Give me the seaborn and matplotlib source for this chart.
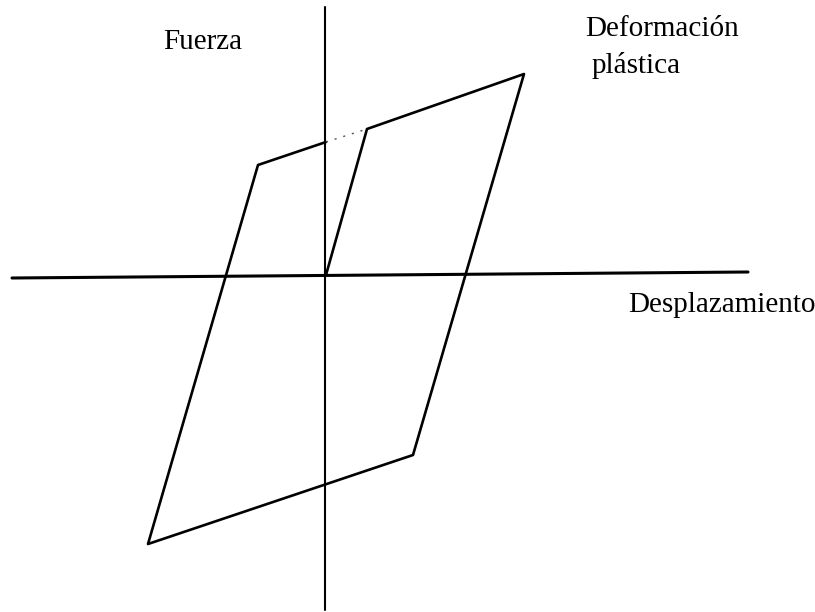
import matplotlib
matplotlib.use("Agg")
import matplotlib.pyplot as plt
import seaborn as sns
import pandas as pd

# --- Data (displacement, force), arbitrary units ---
# hysteresis loop: origin -> yield -> max -> unload -> min -> reload
LOOP_X = [0.00, 0.41, 1.98, 0.87, -1.78, -0.68, 0.00]
LOOP_Y = [0.00, 1.46, 2.01, -1.80, -2.69, 1.10, 1.33]
# faint dotted link between reload branch and yield point
GAP_X = [0.00, 0.41]
GAP_Y = [1.33, 1.46]

# axis lines
HAXIS_X = [-3.14, 4.22]
HAXIS_Y = [-0.03, 0.03]
VAXIS_X = [-0.01, -0.01]
VAXIS_Y = [2.68, -3.35]

LABEL_FORCE = "Fuerza"
LABEL_DISP = "Desplazamiento"
LABEL_PLASTIC = ["Deformación", "plástica"]

INK = "#000000"


def main():
    sns.set_theme(style="white")
    plt.rcParams["font.family"] = ["Liberation Serif", "DejaVu Serif"]

    fig = plt.figure(figsize=(8.15, 6.12), dpi=100)
    ax = fig.add_axes([0, 0, 1, 1])

    loop = pd.DataFrame({"x": LOOP_X, "y": LOOP_Y})
    sns.lineplot(data=loop, x="x", y="y", sort=False, estimator=None,
                 color=INK, linewidth=1.9, ax=ax)
    sns.lineplot(x=GAP_X, y=GAP_Y, sort=False, estimator=None,
                 color="#555555", linewidth=1.0, linestyle=(0, (1.5, 5)), ax=ax)

    sns.lineplot(x=HAXIS_X, y=HAXIS_Y, sort=False, estimator=None,
                 color=INK, linewidth=2.2, ax=ax)
    sns.lineplot(x=VAXIS_X, y=VAXIS_Y, sort=False, estimator=None,
                 color=INK, linewidth=1.5, ax=ax)

    fs = 21
    ax.text(-1.63, 2.26, LABEL_FORCE, fontsize=fs, color=INK, va="baseline")
    ax.text(3.02, -0.37, LABEL_DISP, fontsize=fs, color=INK, va="baseline")
    ax.text(2.59, 2.39, LABEL_PLASTIC[0], fontsize=fs, color=INK, va="baseline")
    ax.text(2.66, 2.02, LABEL_PLASTIC[1], fontsize=fs, color=INK, va="baseline")

    ax.set_xlim(-3.26, 4.89)
    ax.set_ylim(-3.37, 2.75)
    ax.set_axis_off()

    fig.savefig("out.png", dpi=100, facecolor="white")
    plt.close(fig)


if __name__ == "__main__":
    main()
